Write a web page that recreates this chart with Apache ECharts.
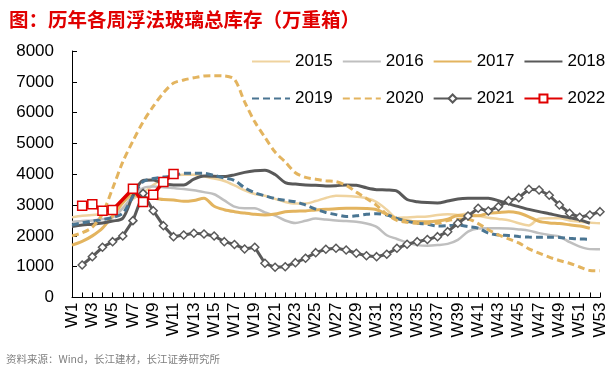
<!DOCTYPE html>
<html>
<head>
<meta charset="utf-8">
<script src="https://cdn.jsdelivr.net/npm/echarts@6/dist/echarts.min.js"></script>
<style>
html,body{margin:0;padding:0;background:#fff;}
#c{width:616px;height:372px;}
</style>
</head>
<body>
<div id="c"></div>
<script>
const titleText = '图：历年各周浮法玻璃总库存（万重箱）';
const sourceText = '资料来源：Wind，长江建材，长江证券研究所';
const weeks = ['W1','W2','W3','W4','W5','W6','W7','W8','W9','W10','W11','W12','W13','W14','W15','W16','W17','W18','W19','W20','W21','W22','W23','W24','W25','W26','W27','W28','W29','W30','W31','W32','W33','W34','W35','W36','W37','W38','W39','W40','W41','W42','W43','W44','W45','W46','W47','W48','W49','W50','W51','W52','W53'];
const yTicks = [0,1000,2000,3000,4000,5000,6000,7000,8000];
const seriesNames = ['2015','2016','2017','2018','2019','2020','2021','2022'];

const s2015 = [2600,2650,2680,2700,2720,2900,3200,3400,3650,3850,3960,3980,3980,3930,3860,3780,3640,3480,3360,3300,3200,3100,3050,3050,3130,3230,3300,3295,3270,3220,3100,2850,2580,2600,2620,2630,2680,2700,2680,2730,2650,2590,2550,2510,2410,2340,2560,2570,2570,2500,2460,2430,2410];
const s2016 = [2450,2480,2500,2550,2600,2900,3300,3550,3600,3580,3550,3520,3480,3420,3350,3150,2950,2896,2896,2760,2660,2500,2420,2490,2560,2530,2500,2480,2461,2400,2290,2020,1900,1780,1700,1680,1700,1740,1870,2140,2240,2250,2250,2240,2210,2170,2090,2030,1980,1800,1650,1570,1565];
const s2017 = [1700,1820,2000,2250,2650,3070,3350,3221,3221,3180,3165,3120,3150,3220,2960,2850,2786,2740,2700,2680,2710,2780,2800,2810,2840,2864,2880,2896,2896,2890,2850,2700,2560,2490,2461,2461,2480,2540,2660,2650,2650,2730,2760,2786,2740,2620,2470,2420,2400,2360,2320,2250,null];
const s2018 = [2300,2350,2380,2420,2480,2570,3300,3800,3815,3700,3653,3653,3840,3940,3935,3925,3980,4060,4110,4130,3990,3730,3680,3653,3640,3620,3630,3650,3640,3560,3500,3490,3450,3180,3110,3080,3070,3130,3200,3221,3221,3221,3140,3040,2948,2860,2786,2720,2650,2590,2520,2410,null];
const s2019 = [2354,2420,2480,2530,2600,2734,3273,3760,3860,3910,3940,4032,4032,4032,3960,3880,3800,3560,3400,3300,3210,3150,3110,3000,2870,2760,2690,2630,2650,2700,2720,2680,2570,2470,2410,2380,2320,2330,2354,2300,2250,2090,2030,2010,1980,1960,1955,1955,1950,1920,1900,1890,null];
const s2020 = [2000,2100,2280,2720,3540,4400,5080,5700,6200,6640,6960,7060,7130,7190,7200,7190,7080,6350,5700,5200,4720,4400,4050,3900,3840,3790,3760,3640,3420,3210,2990,2700,2500,2440,2410,2410,2410,2500,2540,2540,2400,2200,2030,1900,1770,1580,1440,1310,1200,1110,990,880,870];
const s2021 = [null,1055,1325,1630,1812,1997,2494,3380,2818,2331,1974,2029,2084,2062,1997,1812,1721,1575,1630,1110,981,1000,1130,1273,1455,1565,1597,1542,1435,1357,1325,1403,1597,1727,1812,1883,1974,2136,2409,2646,2896,2808,2948,3143,3240,3513,3490,3318,3003,2734,2604,2679,2786];
const s2022 = [null,2980,3026,2818,2840,null,3532,3100,3338,3750,4010,null,null,null,null,null,null,null,null,null,null,null,null,null,null,null,null,null,null,null,null,null,null,null,null,null,null,null,null,null,null,null,null,null,null,null,null,null,null,null,null,null,null];

const FONT = '"Liberation Sans", Arial, sans-serif';

function lineSeries(name, data, color, width, dashed) {
  return {
    name: name, type: 'line', data: data, showSymbol: false, symbol: 'none',
    smooth: 0.3, connectNulls: false,
    lineStyle: {color: color, width: width, type: dashed ? [7, 4] : 'solid'},
    itemStyle: {color: color},
    emphasis: {disabled: true}, animation: false
  };
}

function legendItems(names) {
  return names.map(n => (n === '2021' || n === '2022') ? {name: n} :
    {name: n, itemStyle: {opacity: 0, borderWidth: 0}});
}

const chart = echarts.init(document.getElementById('c'), null, {renderer: 'canvas'});
const option = {
  animation: false,
  backgroundColor: '#ffffff',
  title: {
    text: titleText, left: 4, top: 5,
    textStyle: {color: '#E00000', fontSize: 19.5, fontWeight: 'bold', fontFamily: '"Noto Sans CJK SC", sans-serif'}
  },
  graphic: [{
    type: 'text', left: 6, top: 354,
    style: {text: sourceText, fill: '#7F7F7F', fontSize: 10.5, fontFamily: '"Noto Sans CJK SC", sans-serif'}
  }],
  legend: [
    {data: legendItems(seriesNames.slice(0,4)), left: 251, top: 53, width: 365, padding: 0, itemWidth: 38, itemHeight: 10, itemGap: 9,
     textStyle: {fontSize: 17, color: '#000', fontFamily: FONT}},
    {data: legendItems(seriesNames.slice(4)), left: 251, top: 90, width: 365, padding: 0, itemWidth: 38, itemHeight: 10, itemGap: 9,
     textStyle: {fontSize: 17, color: '#000', fontFamily: FONT}}
  ],
  grid: {left: 72, right: 16, top: 51, bottom: 74.5, containLabel: false},
  xAxis: {
    type: 'category', data: weeks, boundaryGap: false,
    axisLine: {lineStyle: {color: '#000', width: 1}},
    axisTick: {show: true, inside: true, length: 5, interval: 0, lineStyle: {color: '#000'}},
    axisLabel: {rotate: 90, interval: 1, fontSize: 17, color: '#000', fontFamily: FONT, margin: 5},
    splitLine: {show: false}
  },
  yAxis: {
    type: 'value', min: yTicks[0], max: yTicks[yTicks.length-1], interval: 1000,
    axisLine: {show: true, lineStyle: {color: '#000', width: 1}},
    axisTick: {show: true, inside: true, length: 5, lineStyle: {color: '#000'}},
    axisLabel: {fontSize: 17, color: '#000', fontFamily: FONT, margin: 18, formatter: v => String(v)},
    splitLine: {show: false}
  },
  series: [
    lineSeries('2015', s2015, '#EFD39F', 2.5, false),
    lineSeries('2016', s2016, '#BFBFBF', 2.5, false),
    lineSeries('2017', s2017, '#E3B45F', 3, false),
    lineSeries('2018', s2018, '#595959', 3, false),
    lineSeries('2019', s2019, '#4A7592', 3, true),
    lineSeries('2020', s2020, '#E3B45F', 3, true),
    {
      name: '2021', type: 'line', data: s2021, symbol: 'diamond', symbolSize: 8, showSymbol: true, showAllSymbol: true,
      lineStyle: {color: '#595959', width: 3},
      itemStyle: {color: '#ffffff', borderColor: '#595959', borderWidth: 1.5},
      emphasis: {disabled: true}, animation: false
    },
    {
      name: '2022', type: 'line', data: s2022, symbol: 'rect', symbolSize: 9, showSymbol: true, showAllSymbol: true, connectNulls: true,
      lineStyle: {color: '#E00000', width: 3.5},
      itemStyle: {color: '#ffffff', borderColor: '#E00000', borderWidth: 1.5},
      emphasis: {disabled: true}, animation: false
    }
  ]
};
chart.setOption(option);
</script>
</body>
</html>
